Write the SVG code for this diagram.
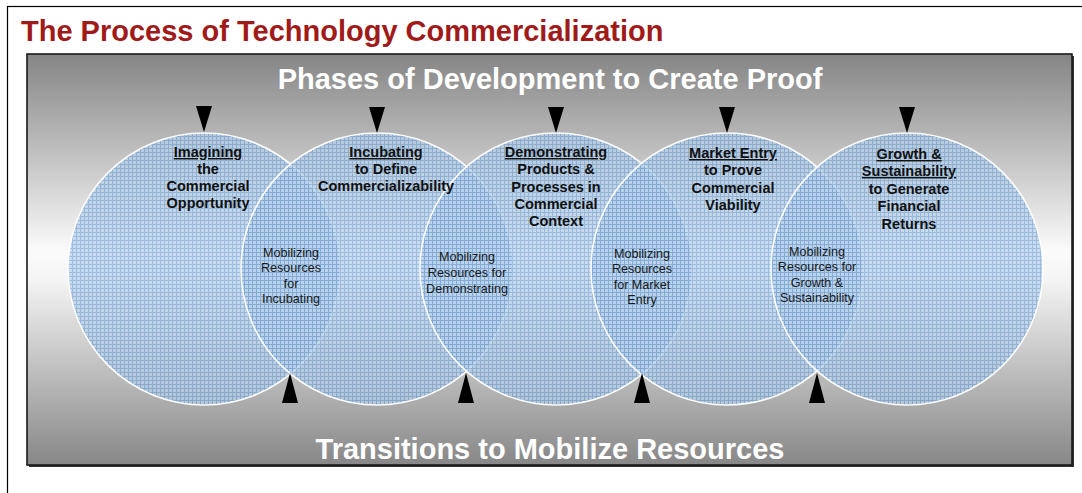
<svg xmlns="http://www.w3.org/2000/svg" width="1082" height="493" viewBox="0 0 1082 493">
  <defs>
    <linearGradient id="panelGrad" x1="0" y1="0" x2="0" y2="1">
      <stop offset="0" stop-color="#858585"/>
      <stop offset="0.48" stop-color="#fbfbfb"/>
      <stop offset="0.55" stop-color="#f4f4f4"/>
      <stop offset="1" stop-color="#878787"/>
    </linearGradient>
    <pattern id="grid" width="4" height="4" patternUnits="userSpaceOnUse">
      <rect width="4" height="4" fill="#b7d0ea"/>
      <path d="M0 0.5H4M0.5 0V4" stroke="#78a6d4" stroke-width="1"/>
    </pattern>
    <style>
      .phase { fill: url(#grid); fill-opacity: 0.72; stroke: #ffffff; stroke-width: 1.6; stroke-opacity: 0.95; }
      .head { font-family: "Liberation Sans", Arial, sans-serif; font-weight: bold; font-size: 14.5px; fill: #111; text-anchor: middle; }
      .mob { font-family: "Liberation Sans", Arial, sans-serif; font-size: 12.6px; fill: #1a1a1a; text-anchor: middle; }
      .big { font-family: "Liberation Sans", Arial, sans-serif; font-weight: bold; font-size: 29px; fill: #ffffff; text-anchor: middle; }
      .u { text-decoration: underline; }
      .arrow { fill: #000; }
    </style>
  </defs>

  <rect x="0" y="0" width="1082" height="493" fill="#ffffff"/>
  <rect x="7.5" y="6.5" width="1090" height="500" fill="none" stroke="#000" stroke-width="1.2"/>

  <text x="21" y="41" font-family="Liberation Sans, Arial, sans-serif" font-weight="bold" font-size="29" fill="#a01a1a">The Process of Technology Commercialization</text>

  <g id="panel">
    <rect x="29" y="56" width="1045" height="411" fill="#333"/>
    <rect x="27" y="54" width="1045" height="411" fill="url(#panelGrad)" stroke="#1a1a1a" stroke-width="1.6"/>
    <text class="big" x="550" y="89">Phases of Development to Create Proof</text>
    <text class="big" x="550" y="459">Transitions to Mobilize Resources</text>
  </g>

  <g id="circles">
    <circle id="phase-1" class="phase" cx="204" cy="269" r="136"/>
    <circle id="phase-2" class="phase" cx="377" cy="269" r="136"/>
    <circle id="phase-3" class="phase" cx="556" cy="269" r="136"/>
    <circle id="phase-4" class="phase" cx="727" cy="269" r="136"/>
    <circle id="phase-5" class="phase" cx="907" cy="269" r="136"/>
  </g>

  <g id="connectors">
    <polygon class="arrow" points="196,106 212,106 204,132"/>
    <polygon class="arrow" points="369,107 385,107 377,133"/>
    <polygon class="arrow" points="548,107 564,107 556,133"/>
    <polygon class="arrow" points="719,107 735,107 727,133"/>
    <polygon class="arrow" points="899,107 915,107 907,133"/>
    <polygon class="arrow" points="282,403 298,403 290,373"/>
    <polygon class="arrow" points="458,403 474,403 466,373"/>
    <polygon class="arrow" points="634,403 650,403 642,373"/>
    <polygon class="arrow" points="809,403 825,403 817,373"/>
  </g>

  <g id="node-imagining">
    <text class="head" x="208" y="157"><tspan class="u">Imagining</tspan></text>
    <text class="head" x="208" y="174">the</text>
    <text class="head" x="208" y="191">Commercial</text>
    <text class="head" x="208" y="208">Opportunity</text>
  </g>
  <g id="node-incubating">
    <text class="head" x="386" y="157"><tspan class="u">Incubating</tspan></text>
    <text class="head" x="386" y="174">to Define</text>
    <text class="head" x="386" y="191">Commercializability</text>
  </g>
  <g id="node-demonstrating">
    <text class="head" x="556" y="157"><tspan class="u">Demonstrating</tspan></text>
    <text class="head" x="556" y="174">Products &amp;</text>
    <text class="head" x="556" y="192">Processes in</text>
    <text class="head" x="556" y="209">Commercial</text>
    <text class="head" x="556" y="226">Context</text>
  </g>
  <g id="node-market-entry">
    <text class="head" x="733" y="158"><tspan class="u">Market Entry</tspan></text>
    <text class="head" x="733" y="175">to Prove</text>
    <text class="head" x="733" y="193">Commercial</text>
    <text class="head" x="733" y="210">Viability</text>
  </g>
  <g id="node-growth">
    <text class="head" x="909" y="159"><tspan class="u">Growth &amp;</tspan></text>
    <text class="head" x="909" y="176"><tspan class="u">Sustainability</tspan></text>
    <text class="head" x="909" y="194">to Generate</text>
    <text class="head" x="909" y="211">Financial</text>
    <text class="head" x="909" y="229">Returns</text>
  </g>

  <g id="node-mob-incubating">
    <text class="mob" x="291" y="257">Mobilizing</text>
    <text class="mob" x="291" y="272">Resources</text>
    <text class="mob" x="291" y="288">for</text>
    <text class="mob" x="291" y="303">Incubating</text>
  </g>
  <g id="node-mob-demonstrating">
    <text class="mob" x="467" y="261">Mobilizing</text>
    <text class="mob" x="467" y="277">Resources for</text>
    <text class="mob" x="467" y="293">Demonstrating</text>
  </g>
  <g id="node-mob-market">
    <text class="mob" x="642" y="258">Mobilizing</text>
    <text class="mob" x="642" y="273">Resources</text>
    <text class="mob" x="642" y="289">for Market</text>
    <text class="mob" x="642" y="304">Entry</text>
  </g>
  <g id="node-mob-growth">
    <text class="mob" x="817" y="256">Mobilizing</text>
    <text class="mob" x="817" y="271">Resources for</text>
    <text class="mob" x="817" y="287">Growth &amp;</text>
    <text class="mob" x="817" y="302">Sustainability</text>
  </g>
</svg>
